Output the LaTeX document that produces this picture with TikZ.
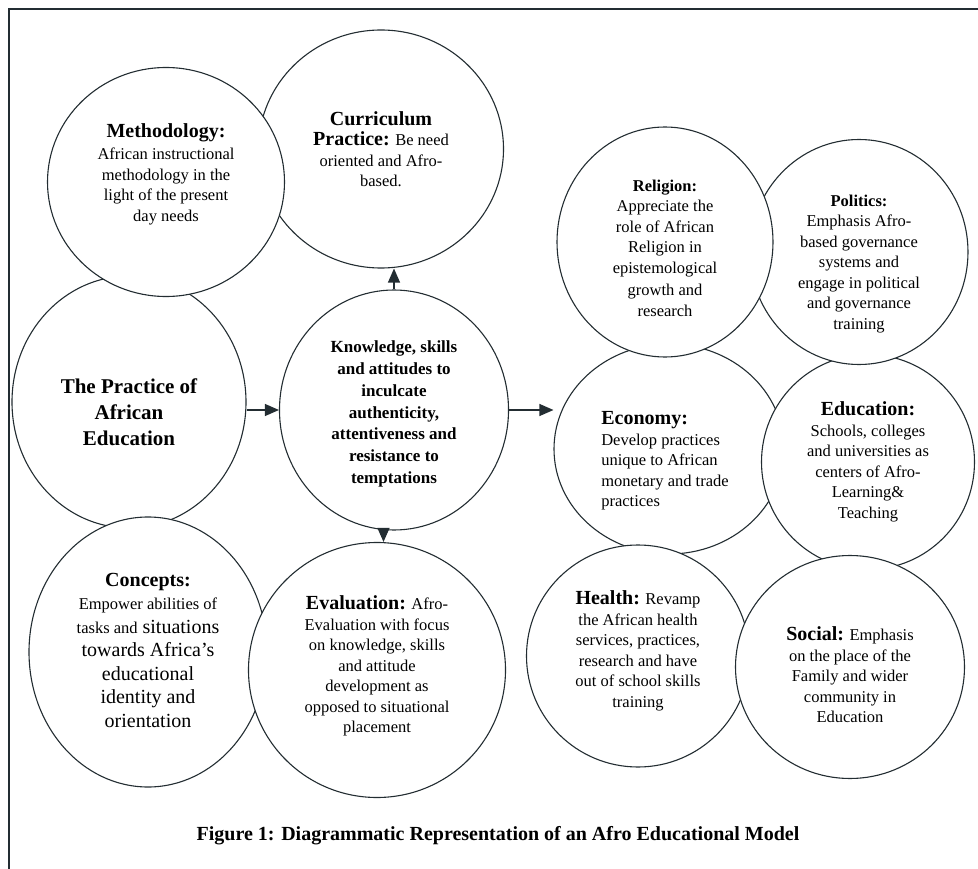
\documentclass[tikz,border=0pt]{standalone}
\usepackage{fontspec}
\setmainfont{Liberation Serif}
\usepackage{tikz}
\usetikzlibrary{arrows.meta,shapes.geometric}
\definecolor{ink}{RGB}{35,45,50}
\newcommand{\headfont}{\fontsize{20}{24}\selectfont\bfseries}
\newcommand{\bodyfont}{\fontsize{16.5}{20.5}\selectfont}
\newcommand{\smallhead}{\fontsize{16.5}{20.5}\selectfont\bfseries}
\newcommand{\bigfont}{\fontsize{20}{23.5}\selectfont}

\begin{document}
\begin{tikzpicture}[x=1pt, y=-1pt,
  bubble/.style={ellipse, draw=ink, line width=1.1pt, fill=white, inner sep=0pt},
  txt/.style={align=center, inner sep=0pt, font=\bodyfont},
  arr/.style={-{Triangle[length=14pt,width=12pt]}, line width=1.1pt, ink},
  capt/.style={font=\fontsize{20}{24}\selectfont\bfseries}
]
\useasboundingbox (0,0) rectangle (978,869);

% left group
\node[bubble, minimum width=245pt, minimum height=238pt] (curr) at (381,149) {};
\node[txt] (curr-t) at (curr) {
  {\headfont Curriculum}\\
  {\headfont Practice:} Be need\\
  oriented and Afro-\\
  based.
};
\node[bubble, minimum width=234pt, minimum height=252pt] (prac) at (129,402) {};
\node[txt, yshift=-10pt, font=\fontsize{21}{26}\selectfont\bfseries] (prac-t) at (prac) {
  The Practice of\\
  African\\
  Education
};
\node[bubble, minimum width=237pt, minimum height=229pt] (meth) at (166,182) {};
\node[txt, yshift=8pt] (meth-t) at (meth) {
  {\headfont Methodology:}\\[2pt]
  African instructional\\
  methodology in the\\
  light of the present\\
  day needs
};
\node[bubble, minimum width=238pt, minimum height=270pt] (conc) at (148,652) {};
\node[txt, yshift=2pt, font=\bigfont] (conc-t) at (conc) {
  {\headfont Concepts:}\\
  {\bodyfont Empower abilities of}\\
  {\bodyfont tasks and} situations\\
  towards Africa's\\
  educational\\
  identity and\\
  orientation
};
\node[bubble, minimum width=257pt, minimum height=255pt] (eval) at (377,670) {};
\node[txt, yshift=4pt] (eval-t) at (eval) {
  {\headfont Evaluation:} Afro-\\
  Evaluation with focus\\
  on knowledge, skills\\
  and attitude\\
  development as\\
  opposed to situational\\
  placement
};
\node[bubble, minimum width=229pt, minimum height=240pt] (know) at (394,410) {};
\node[txt, yshift=-4pt, font=\fontsize{17}{21.7}\selectfont\bfseries] (know-t) at (know) {
  Knowledge, skills\\
  and attitudes to\\
  inculcate\\
  authenticity,\\
  attentiveness and\\
  resistance to\\
  temptations
};

% right group
\node[bubble, minimum width=230pt, minimum height=210pt] (eco) at (669,449) {};
\node[txt, align=left, xshift=-4pt, yshift=-12pt] (eco-t) at (eco) {
  {\headfont Economy:}\\
  Develop practices\\
  unique to African\\
  monetary and trade\\
  practices
};
\node[bubble, minimum width=213pt, minimum height=215pt] (edu) at (868,462) {};
\node[txt] (edu-t) at (edu) {
  {\headfont Education:}\\
  Schools, colleges\\
  and universities as\\
  centers of Afro-\\
  Learning\&\\
  Teaching
};
\node[bubble, minimum width=218pt, minimum height=225pt] (pol) at (859,252) {};
\node[txt, yshift=-12pt] (pol-t) at (pol) {
  {\smallhead Politics:}\\
  Emphasis Afro-\\
  based governance\\
  systems and\\
  engage in political\\
  and governance\\
  training
};
\node[bubble, minimum width=216pt, minimum height=230pt] (rel) at (665,242) {};
\node[txt, yshift=-6pt] (rel-t) at (rel) {
  {\smallhead Religion:}\\
  Appreciate the\\
  role of African\\
  Religion in\\
  epistemological\\[2pt]
  growth and\\
  research
};
\node[bubble, minimum width=223pt, minimum height=222pt] (hea) at (638,656) {};
\node[txt, yshift=5pt] (hea-t) at (hea) {
  {\headfont Health:} Revamp\\
  the African health\\
  services, practices,\\
  research and have\\
  out of school skills\\
  training
};
\node[bubble, minimum width=229pt, minimum height=223pt] (soc) at (850,667) {};
\node[txt, yshift=-8pt] (soc-t) at (soc) {
  {\headfont Social:} Emphasis\\
  on the place of the\\
  Family and wider\\
  community in\\
  Education
};

\node[capt] (cap) at (498,836) {Figure 1: Diagrammatic Representation of an Afro Educational Model};

\draw[arr] (know.west -| prac.east) -- (know.west);
\draw[arr] (know.east) -- (know.east -| eco.west);
\draw[arr] (know.north) -- (know.north |- curr.south);
\draw[arr] (know.-95) -- (know.-95 |- eval.north);

% frame
\draw[ink, line width=1.6pt] (978,9) -- (9,9) -- (9,869);
\end{tikzpicture}
\end{document}
